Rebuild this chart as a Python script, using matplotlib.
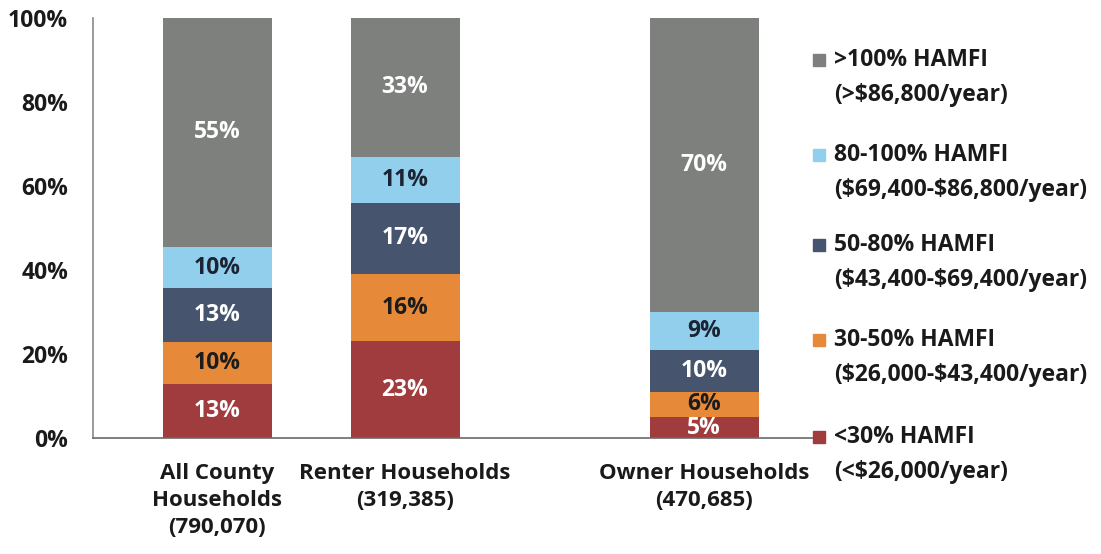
import numpy as np
import matplotlib
matplotlib.use("Agg")
import matplotlib.pyplot as plt
from matplotlib.patches import Rectangle

plt.rcParams["font.family"] = ["Open Sans", "DejaVu Sans"]
plt.rcParams["font.weight"] = "bold"

categories = ["All County\nHouseholds\n(790,070)",
              "Renter Households\n(319,385)",
              "Owner Households\n(470,685)"]
bands = ["<30% HAMFI", "30-50% HAMFI", "50-80% HAMFI",
         "80-100% HAMFI", ">100% HAMFI"]
band_ranges = ["(<$26,000/year)", "($26,000-$43,400/year)",
               "($43,400-$69,400/year)", "($69,400-$86,800/year)",
               "(>$86,800/year)"]
# shares per band (bottom to top) for each category, as labelled
all_county = [13, 10, 13, 10, 55]
renter = [23, 16, 17, 11, 33]
owner = [5, 6, 10, 9, 70]

colors = ["#a03c3e", "#e68a3a", "#46546e", "#92cfec", "#7e807e"]
label_colors = ["white", "#1c1c1c", "white", "#1c2433", "white"]

W, H = 1101, 554
fig = plt.figure(figsize=(W / 100, H / 100), dpi=100)
ax = fig.add_axes([93 / W, (H - 438) / H, (813 - 93) / W, 420 / H])

xpos = [124, 312, 611]
bar_w = 109
series = [all_county, renter, owner]

for x, vals in zip(xpos, series):
    vals = np.array(vals, dtype=float)
    heights = vals / vals.sum() * 100
    bottom = 0.0
    for i, (h, v) in enumerate(zip(heights, vals)):
        ax.bar(x, h, bottom=bottom, width=bar_w, color=colors[i], linewidth=0)
        ax.text(x, bottom + h / 2, f"{int(v)}%", ha="center", va="center",
                color=label_colors[i], fontsize=16.5, fontweight="bold")
        bottom += h

ax.set_xlim(0, 720)
ax.set_ylim(0, 100)
ax.set_yticks([0, 20, 40, 60, 80, 100])
ax.set_yticklabels([f"{t}%" for t in [0, 20, 40, 60, 80, 100]],
                   fontsize=16.5, fontweight="bold", color="#1a1a1a")
ax.tick_params(axis="y", length=0, pad=18)
ax.set_xticks(xpos)
ax.set_xticklabels(categories, fontsize=16, fontweight="bold",
                   color="#1a1a1a", linespacing=1.38)
ax.tick_params(axis="x", length=0, pad=18)
for side in ["top", "right"]:
    ax.spines[side].set_visible(False)
ax.spines["left"].set_color("#8a8a8a")
ax.spines["bottom"].set_color("#6a6a6a")
ax.spines["left"].set_linewidth(1.2)
ax.spines["bottom"].set_linewidth(1.2)

# legend, drawn by hand (top entry first)
legend_y = [437, 340, 245, 155, 60]
for i in range(len(bands)):
    y = legend_y[i]
    fig.add_artist(Rectangle(((813) / W, (H - y - 6) / H), 12 / W, 12 / H,
                             transform=fig.transFigure, color=colors[i]))
    fig.text(834 / W, (H - y) / H, bands[i], ha="left", va="center",
             fontsize=16.5, fontweight="bold", color="#1a1a1a", parse_math=False)
    fig.text(834 / W, (H - y - 35) / H, band_ranges[i], ha="left", va="center",
             fontsize=16.5, fontweight="bold", color="#1a1a1a", parse_math=False)

fig.savefig("out.png", dpi=100, facecolor="white")
